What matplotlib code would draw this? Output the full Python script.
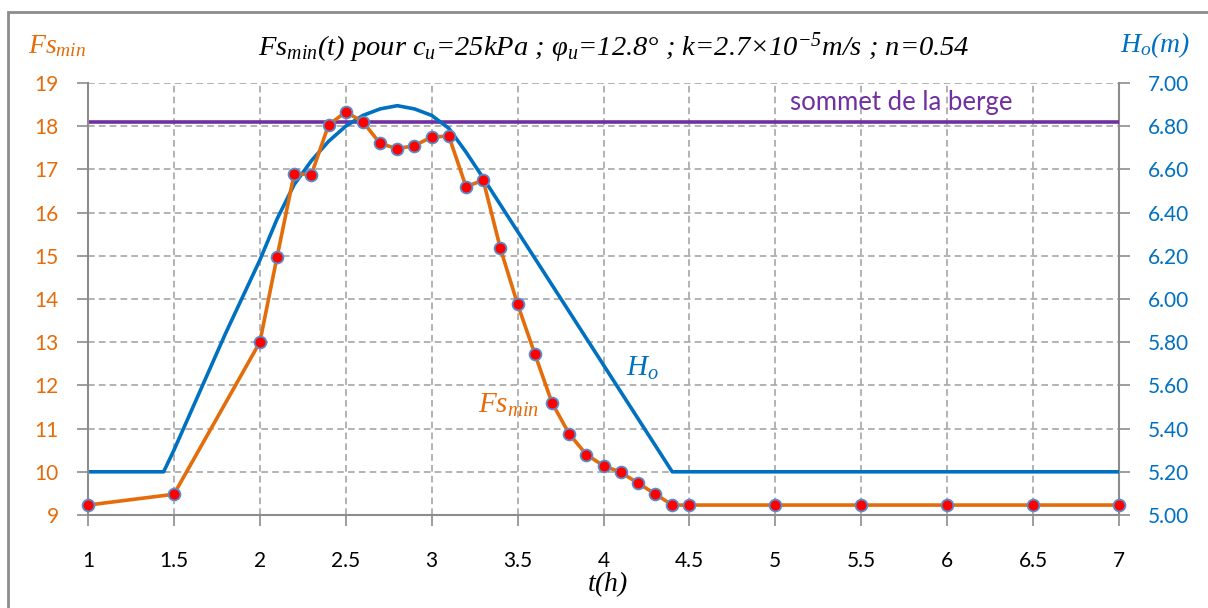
import matplotlib
matplotlib.use("Agg")
import matplotlib.pyplot as plt
from matplotlib.patches import Rectangle

# ---- data ----
t_fs = [1.0, 1.5, 2.0, 2.1, 2.2, 2.3, 2.4, 2.5, 2.6, 2.7, 2.8, 2.9, 3.0, 3.1, 3.2, 3.3,
        3.4, 3.5, 3.6, 3.7, 3.8, 3.9, 4.0, 4.1, 4.2, 4.3, 4.4, 4.5, 5.0, 5.5, 6.0, 6.5, 7.0]
fs_min = [9.23, 9.48, 13.0, 14.97, 16.9, 16.88, 18.03, 18.33, 18.1, 17.6, 17.48, 17.55, 17.75, 17.77,
          16.6, 16.75, 15.17, 13.88, 12.73, 11.6, 10.88, 10.4, 10.14, 9.99, 9.74, 9.49, 9.23,
          9.23, 9.23, 9.23, 9.23, 9.23, 9.23]

t_h = [1.0, 1.44, 1.5, 1.6, 1.7, 1.8, 1.9, 2.0, 2.1, 2.2, 2.3, 2.4, 2.5, 2.6, 2.7, 2.8,
       2.9, 3.0, 3.1, 3.2, 3.3, 4.4, 7.0]
h_o = [5.20, 5.20, 5.30, 5.48, 5.66, 5.84, 6.01, 6.18, 6.37, 6.53, 6.64, 6.73, 6.80, 6.85, 6.88, 6.895,
       6.88, 6.85, 6.79, 6.68, 6.56, 5.20, 5.20]

berge = 6.82
x_ticks = [1, 1.5, 2, 2.5, 3, 3.5, 4, 4.5, 5, 5.5, 6, 6.5, 7]
x_labels = ["1", "1.5", "2", "2.5", "3", "3.5", "4", "4.5", "5", "5.5", "6", "6.5", "7"]
fs_ticks = [9, 10, 11, 12, 13, 14, 15, 16, 17, 18, 19]
h_ticks = [5.0, 5.2, 5.4, 5.6, 5.8, 6.0, 6.2, 6.4, 6.6, 6.8, 7.0]

# ---- style ----
ORANGE = "#E46C0A"
BLUE = "#0070C0"
PURPLE = "#7030A0"
GRID = "#A6A6A6"
SPINE = "#8C8C8C"

plt.rcParams["mathtext.fontset"] = "custom"
plt.rcParams["mathtext.it"] = "Liberation Serif:italic"
plt.rcParams["mathtext.rm"] = "Liberation Serif:italic"
plt.rcParams["mathtext.default"] = "it"

W, H = 1208, 608
fig = plt.figure(figsize=(W / 100, H / 100), dpi=100)
fig.patch.set_facecolor("white")
fig.patches.append(Rectangle((8 / W, -0.05), 1.1, 1 - 12 / H + 0.05, transform=fig.transFigure,
                             fill=False, edgecolor=SPINE, linewidth=2, zorder=0))

pos = [88 / W, 1 - 515 / H, (1119 - 88) / W, (515 - 83) / H]
ax2 = fig.add_axes(pos)          # H axis (drawn below)
ax = fig.add_axes(pos, sharex=ax2)  # Fs axis (drawn on top)
ax.patch.set_visible(False)

# H axis (right)
ax2.set_xlim(1, 7)
ax2.set_ylim(5.0, 7.0)
ax2.yaxis.tick_right()
ax2.set_yticks(h_ticks)
ax2.set_yticklabels([f"{v:.2f}" for v in h_ticks], color=BLUE, fontsize=15, family="Lato")
ax2.grid(True, color=GRID, linestyle=(0, (4, 2.5)), linewidth=1.2)
ax2.set_axisbelow(True)
ax2.plot([1, 7], [berge, berge], color=PURPLE, linewidth=2.6, solid_capstyle="butt", zorder=3)
ax2.plot(t_h, h_o, color=BLUE, linewidth=2.6, zorder=4, solid_joinstyle="round")
ax2.tick_params(axis="y", direction="out", length=8, width=1.2, color=SPINE, pad=13)
ax2.tick_params(axis="x", direction="out", length=8, width=1.2, color=SPINE, pad=18)
ax2.set_xticks(x_ticks)
ax2.set_xticklabels(x_labels, fontsize=15, family="Lato", color="black")
for s in ["top", "left"]:
    ax2.spines[s].set_visible(False)
for s in ["right", "bottom"]:
    ax2.spines[s].set_color(SPINE)
    ax2.spines[s].set_linewidth(1.5)

# Fs axis (left)
ax.set_ylim(9, 19)
ax.set_yticks(fs_ticks)
ax.set_yticklabels([str(v) for v in fs_ticks], color=ORANGE, fontsize=15, family="Lato")
ax.tick_params(axis="y", direction="out", length=8, width=1.2, color=SPINE, pad=13)
ax.tick_params(axis="x", bottom=False, labelbottom=False)
for s in ["top", "right", "bottom"]:
    ax.spines[s].set_visible(False)
ax.spines["left"].set_color(SPINE)
ax.spines["left"].set_linewidth(1.5)
ax.plot(t_fs, fs_min, color=ORANGE, linewidth=2.6, marker="o", markersize=8.5,
        markerfacecolor="#FF0000", markeredgecolor="#5B8BC9", markeredgewidth=1.3,
        clip_on=False, zorder=5)

# annotations
ax.text(4.13, 12.4, r"$H_o$", color=BLUE, fontsize=21, ha="left", va="center")
ax.text(3.27, 11.55, r"$Fs_{min}$", color=ORANGE, fontsize=21, ha="left", va="center")
ax2.text(5.73, 6.91, "sommet de la berge", color=PURPLE, fontsize=18.5, family="Lato",
         ha="center", va="center")

# titles / axis labels
fig.text(614 / W, 1 - 48 / H,
         r"$Fs_{min}(t)$ pour $c_u$=25kPa ; $\varphi_u$=12.8° ; k=2.7×10$^{-5}$m/s ; n=0.54",
         fontsize=20.5, family="Liberation Serif", style="italic", ha="center", va="center")
fig.text(28 / W, 1 - 45 / H, r"$Fs_{min}$", color=ORANGE, fontsize=20, ha="left", va="center")
fig.text(1120 / W, 1 - 45 / H, r"$H_o(m)$", color=BLUE, fontsize=20, ha="left", va="center")
fig.text(608 / W, 1 - 584 / H, r"$t(h)$", color="black", fontsize=20, ha="center", va="center")

fig.savefig("out.png", dpi=100)
